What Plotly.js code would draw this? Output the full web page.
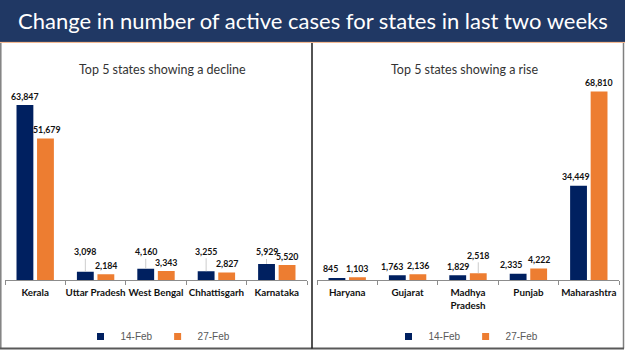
<!DOCTYPE html>
<html>
<head>
<meta charset="utf-8">
<script src="https://cdn.plot.ly/plotly-3.0.1.min.js"></script>
<style>
  html, body { margin: 0; padding: 0; background: #ffffff; }
  #chart { width: 625px; height: 351px; }
</style>
</head>
<body>
<div id="chart"></div>
<script>
// ---- Data ----
const seriesNames = ['14-Feb', '27-Feb'];
const declineStates = ['Kerala', 'Uttar Pradesh', 'West Bengal', 'Chhattisgarh', 'Karnataka'];
const decline14Feb = [63847, 3098, 4160, 3255, 5929];
const decline27Feb = [51679, 2184, 3343, 2827, 5520];
const riseStates = ['Haryana', 'Gujarat', 'Madhya<br>Pradesh', 'Punjab', 'Maharashtra'];
const rise14Feb = [845, 1763, 1829, 2335, 34449];
const rise27Feb = [1103, 2136, 2518, 4222, 68810];

// ---- Styling ----
const navy = '#002060';
const orange = '#ed7d31';
const labelFont = {family: 'Lato, Roboto, sans-serif', size: 8.8, color: '#111111', weight: 'bold'};
// pixel offsets of data labels relative to their bar tops (style only)
const offDecline14 = [9, 20, 17, 20, 12];
const offDecline27 = [9, 9, 9, 9, 9];
const offRise14 = [9, 9, 9, 9, 9];
const offRise27 = [9, 9, 18, 9, 9];
const shiftDecline14 = [0, 0, 0, 0, 0];
const shiftDecline27 = [2, 0, 0, 0, 0];
const shiftRise14 = [-6, -5, 0, -7, -3];
const shiftRise27 = [0, 0, 0, 0, 0];
const groupShift = 0.17;

function fmt(v) { return v.toLocaleString('en-US'); }

function barTrace(cats, vals, name, color, xa, ya) {
  return {type: 'bar', x: cats, y: vals, name: name, xaxis: xa, yaxis: ya,
    marker: {color: color}, showlegend: false, hoverinfo: 'x+y'};
}
function legendTrace(name, color, xa, ya, lg) {
  return {type: 'scatter', mode: 'markers', x: [null], y: [null], name: name,
    xaxis: xa, yaxis: ya, legend: lg, showlegend: true,
    marker: {symbol: 'square', size: 7, color: color}};
}
function labels(vals, offsets, xshifts, shift, xr, yr) {
  return vals.map((v, i) => {
    const leader = offsets[i] > 10;
    const a = {x: i + shift, y: v, xref: xr, yref: yr, text: fmt(v), font: labelFont, xshift: xshifts[i]};
    if (leader) {
      Object.assign(a, {showarrow: true, arrowhead: 0, arrowwidth: 0.8, arrowcolor: '#bfbfbf',
        ax: 0, ay: -offsets[i], standoff: 0, startstandoff: 0});
    } else {
      Object.assign(a, {showarrow: false, yanchor: 'middle', yshift: offsets[i]});
    }
    return a;
  });
}

const data = [
  barTrace(declineStates, decline14Feb, seriesNames[0], navy, 'x', 'y'),
  barTrace(declineStates, decline27Feb, seriesNames[1], orange, 'x', 'y'),
  barTrace(riseStates, rise14Feb, seriesNames[0], navy, 'x2', 'y2'),
  barTrace(riseStates, rise27Feb, seriesNames[1], orange, 'x2', 'y2'),
  legendTrace(seriesNames[0], navy, 'x', 'y', 'legend'),
  legendTrace(seriesNames[1], orange, 'x', 'y', 'legend'),
  legendTrace(seriesNames[0], navy, 'x2', 'y2', 'legend2'),
  legendTrace(seriesNames[1], orange, 'x2', 'y2', 'legend2')
];

const xaxisStyle = {
  type: 'category', showline: true, linecolor: '#8c8c8c', linewidth: 1,
  ticks: 'outside', tickson: 'boundaries', ticklen: 4, tickcolor: '#8c8c8c', tickwidth: 1,
  tickangle: 0, automargin: false, ticklabelstandoff: 3,
  showgrid: false, zeroline: false, fixedrange: true,
  tickfont: {family: 'Lato, Roboto, sans-serif', size: 9.8, color: '#111111', weight: 'bold'}
};
const yaxisStyle = {
  range: [0, 72000], showgrid: false, zeroline: false, showline: false,
  showticklabels: false, ticks: '', fixedrange: true
};
const legendStyle = {
  orientation: 'h', xanchor: 'center', yanchor: 'middle', y: 1 - 337 / 351,
  font: {family: 'Liberation Sans, Arial, sans-serif', size: 10, color: '#595959'},
  bgcolor: 'rgba(0,0,0,0)', itemwidth: 30, traceorder: 'normal'
};

const titleFont = {family: 'Lato, Open Sans, sans-serif', size: 12.5, color: '#333333'};

const annotations = [
  {xref: 'paper', yref: 'paper', x: 312.5 / 625, y: 1 - 21 / 351, xanchor: 'center', yanchor: 'middle',
    text: 'Change in number of active cases for states in last two weeks', showarrow: false,
    font: {family: 'Lato, Open Sans, sans-serif', size: 22, color: '#ffffff'}},
  {xref: 'paper', yref: 'paper', x: 163 / 625, y: 1 - 70 / 351, xanchor: 'center', yanchor: 'middle',
    text: 'Top 5 states showing a decline', showarrow: false, font: titleFont},
  {xref: 'paper', yref: 'paper', x: 465 / 625, y: 1 - 70 / 351, xanchor: 'center', yanchor: 'middle',
    text: 'Top 5 states showing a rise', showarrow: false, font: titleFont}
].concat(
  labels(decline14Feb, offDecline14, shiftDecline14, -groupShift, 'x', 'y'),
  labels(decline27Feb, offDecline27, shiftDecline27, groupShift, 'x', 'y'),
  labels(rise14Feb, offRise14, shiftRise14, -groupShift, 'x2', 'y2'),
  labels(rise27Feb, offRise27, shiftRise27, groupShift, 'x2', 'y2')
);

const shapes = [
  {type: 'rect', xref: 'paper', yref: 'paper', x0: 0, x1: 1, y0: 1 - 42 / 351, y1: 1,
    fillcolor: '#203864', line: {width: 0}, layer: 'below'},
  {type: 'line', xref: 'paper', yref: 'paper', x0: 0, x1: 1, y0: 1 - 42.5 / 351, y1: 1 - 42.5 / 351,
    line: {color: '#f4b183', width: 1}},
  {type: 'line', xref: 'paper', yref: 'paper', x0: 0.8 / 625, x1: 0.8 / 625, y0: 1 - 349.5 / 351, y1: 1 - 43 / 351,
    line: {color: '#7f7f7f', width: 1.5}},
  {type: 'line', xref: 'paper', yref: 'paper', x0: 623.5 / 625, x1: 623.5 / 625, y0: 1 - 349.5 / 351, y1: 1 - 43 / 351,
    line: {color: '#7f7f7f', width: 1.5}},
  {type: 'line', xref: 'paper', yref: 'paper', x0: 0, x1: 624 / 625, y0: 1 - 349.5 / 351, y1: 1 - 349.5 / 351,
    line: {color: '#595959', width: 2}},
  {type: 'line', xref: 'paper', yref: 'paper', x0: 312 / 625, x1: 312 / 625, y0: 1 - 349.5 / 351, y1: 1 - 43 / 351,
    line: {color: '#1a1a1a', width: 1.5}}
];

const layout = {
  width: 625, height: 351,
  margin: {l: 0, r: 0, t: 0, b: 0, pad: 0},
  paper_bgcolor: '#ffffff', plot_bgcolor: 'rgba(0,0,0,0)',
  barmode: 'group', bargap: 0.32, bargroupgap: 0.18,
  xaxis: Object.assign({}, xaxisStyle, {domain: [5 / 625, 307 / 625], anchor: 'y'}),
  yaxis: Object.assign({}, yaxisStyle, {domain: [1 - 281 / 351, 1 - 83 / 351], anchor: 'x'}),
  xaxis2: Object.assign({}, xaxisStyle, {domain: [317 / 625, 619 / 625], anchor: 'y2'}),
  yaxis2: Object.assign({}, yaxisStyle, {domain: [1 - 281 / 351, 1 - 83 / 351], anchor: 'x2'}),
  legend: Object.assign({}, legendStyle, {x: 158 / 625}),
  legend2: Object.assign({}, legendStyle, {x: 466 / 625}),
  annotations: annotations,
  shapes: shapes,
  showlegend: true
};

Plotly.newPlot('chart', data, layout, {displayModeBar: false, staticPlot: true});
</script>
</body>
</html>
